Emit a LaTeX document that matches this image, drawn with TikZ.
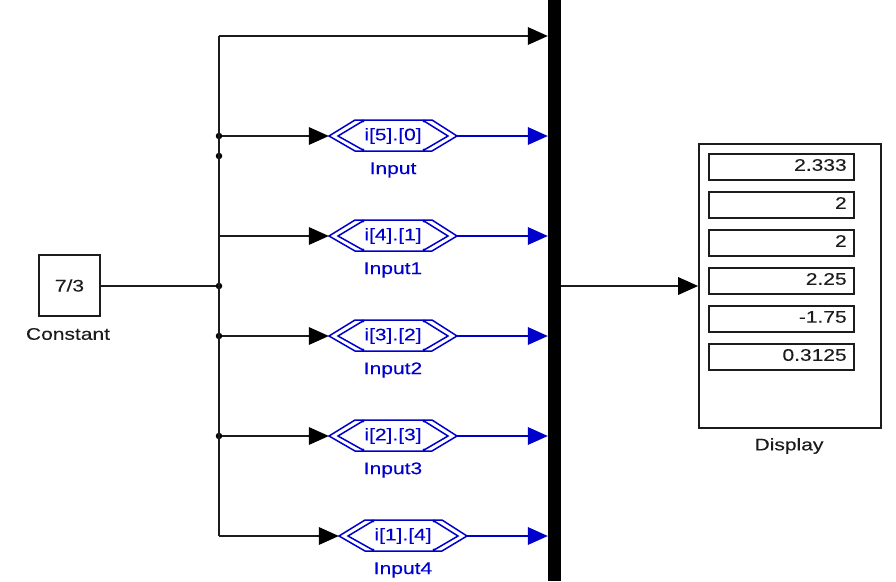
\documentclass[tikz,border=0pt]{standalone}
\usepackage{fontspec}
\setmainfont[FakeStretch=1.25,FakeBold=0.15]{Liberation Sans}
\usetikzlibrary{arrows.meta}
\definecolor{simblue}{RGB}{0,0,205}
\definecolor{simdark}{RGB}{28,28,28}
\tikzset{
  wire/.style={draw=simdark,line width=1.8pt,-{Triangle[length=20pt,width=18pt,fill=black,color=black,line width=0pt]}},
  plainwire/.style={draw=simdark,line width=1.8pt},
  bluewire/.style={draw=simblue,line width=1.8pt,-{Triangle[length=20pt,width=18pt,fill=simblue,line width=0pt]}},
  dot/.style={circle,fill=black,inner sep=0pt,minimum size=6.5pt},
  block/.style={draw=simdark,line width=1.8pt,fill=white,inner sep=0pt},
  txt/.style={font=\fontsize{16.8}{18}\selectfont,text=simdark,inner sep=0pt},
  bluetxt/.style={font=\fontsize{16.8}{18}\selectfont,text=simblue,inner sep=0pt},
  hexnode/.style={minimum width=128pt,minimum height=31pt,inner sep=0pt,bluetxt},
  hexline/.style={draw=simblue,line width=1.5pt},
  readout/.style={block,minimum width=145pt,minimum height=26pt},
  readtxt/.style={txt,anchor=east}
}
\newcommand{\hexablock}[5]{%
  % name, x, y, text, label
  \draw[hexline] (#2-64,#3) -- (#2-38,#3-16) -- (#2+39,#3-16) -- (#2+64,#3) -- (#2+39,#3+15) -- (#2-38,#3+15) -- cycle;
  \draw[hexline] (#2-30,#3-15) -- (#2-55,#3) -- (#2-30,#3+14);
  \draw[hexline] (#2+31,#3-15) -- (#2+55,#3) -- (#2+31,#3+14);
  \fill[simblue] (#2-30,#3-15) circle (1.6pt) (#2-30,#3+14) circle (1.6pt) (#2+31,#3-15) circle (1.6pt) (#2+31,#3+14) circle (1.6pt);
  \node[hexnode] (#1) at (#2,#3) {#4};
  \node[bluetxt] (#1lab) at (#2,#3+34) {#5};
}
\begin{document}
\begin{tikzpicture}[x=1pt,y=-1pt]
\useasboundingbox (0,0) rectangle (896,581);
\fill[white] (0,0) rectangle (896,581);

% bus bar
\node[fill=black,inner sep=0pt,minimum width=13pt,minimum height=581pt] (bar) at (554.5,290.5) {};

% constant
\node[block,minimum width=61pt,minimum height=61pt,txt] (const) at (69.5,285.5) {7/3};
\node[txt] (constlab) at (68,334) {Constant};

% junction points
\coordinate (top) at (219,36);
\coordinate (bot) at (219,536);
\node[dot] (j1) at (219,136) {};
\node[dot] (j0) at (219,156) {};
\node[dot] (j3) at (219,286) {};
\node[dot] (j4) at (219,336) {};
\node[dot] (j5) at (219,436) {};
\coordinate (j2) at (219,236);

% hex blocks
\hexablock{h5}{393}{136}{i[5].[0]}{Input}
\hexablock{h4}{393}{236}{i[4].[1]}{Input1}
\hexablock{h3}{393}{336}{i[3].[2]}{Input2}
\hexablock{h2}{393}{436}{i[2].[3]}{Input3}
\hexablock{h1}{403}{536}{i[1].[4]}{Input4}

% display
\node[block,minimum width=182pt,minimum height=284pt] (disp) at (790,286) {};
\node[txt] (displab) at (789,446) {Display};
\node[readout] (r1) at (781.5,167) {};
\node[readout] (r2) at (781.5,205) {};
\node[readout] (r3) at (781.5,243) {};
\node[readout] (r4) at (781.5,281) {};
\node[readout] (r5) at (781.5,319) {};
\node[readout] (r6) at (781.5,357) {};
\node[readtxt] at ([xshift=-8pt,yshift=2pt]r1.east) {2.333};
\node[readtxt] at ([xshift=-8pt,yshift=2pt]r2.east) {2};
\node[readtxt] at ([xshift=-8pt,yshift=2pt]r3.east) {2};
\node[readtxt] at ([xshift=-8pt,yshift=2pt]r4.east) {2.25};
\node[readtxt] at ([xshift=-8pt,yshift=2pt]r5.east) {-1.75};
\node[readtxt] at ([xshift=-8pt,yshift=2pt]r6.east) {0.3125};

% connectors
\draw[plainwire] (top) -- (bot);
\draw[plainwire] (const.east |- j3) -- (j3);
\draw[wire] (top) -- (bar.west |- top);
\draw[wire] (j1) -- (h5.west);
\draw[wire] (j2) -- (h4.west);
\draw[wire] (j4) -- (h3.west);
\draw[wire] (j5) -- (h2.west);
\draw[wire] (bot) -- (h1.west);
\draw[bluewire] (h5.east) -- (bar.west |- h5.east);
\draw[bluewire] (h4.east) -- (bar.west |- h4.east);
\draw[bluewire] (h3.east) -- (bar.west |- h3.east);
\draw[bluewire] (h2.east) -- (bar.west |- h2.east);
\draw[bluewire] (h1.east) -- (bar.west |- h1.east);
\draw[wire] (bar.east |- j3) -- (disp.west |- j3);
\end{tikzpicture}
\end{document}
